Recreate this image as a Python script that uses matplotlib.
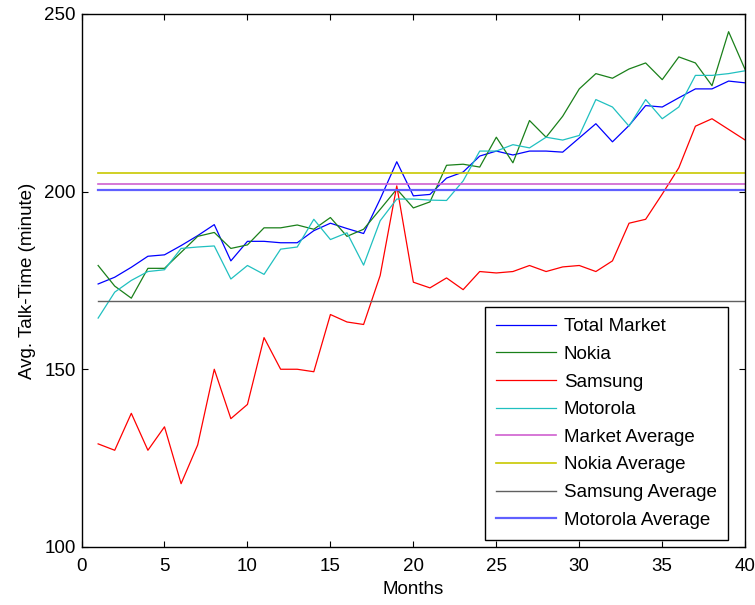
import matplotlib
matplotlib.use("Agg")
import matplotlib.pyplot as plt
import numpy as np

months = list(range(1, 41))
total_market = [174, 175.9, 178.7, 181.8, 182.2, 184.8, 187.6, 190.7, 180.5, 186,
                186, 185.6, 185.6, 189, 191.1, 189.6, 188.2, 197.9, 208.4, 198.8,
                199.2, 203.8, 205.5, 210, 211.4, 210.3, 211.4, 211.4, 211.1, 215.1,
                219.1, 214, 218.6, 224.2, 223.8, 226.4, 228.9, 228.9, 231.1, 230.6]
nokia = [179.2, 173.4, 170, 178.4, 178.4, 182.9, 187.4, 188.5, 184, 185,
         189.8, 189.8, 190.6, 189.4, 192.7, 187.4, 189.4, 195, 200.7, 195.4,
         197.1, 207.4, 207.7, 206.9, 215.3, 208.1, 220, 215.3, 221.2, 228.9,
         233.2, 231.9, 234.5, 236.2, 231.5, 237.9, 236.2, 229.8, 245, 234.3]
samsung = [129, 127.2, 137.6, 127.2, 133.8, 117.8, 128.7, 150, 136.1, 140.1,
           158.9, 150, 150, 149.3, 165.4, 163.3, 162.6, 176.4, 201.6, 174.5,
           172.9, 175.7, 172.4, 177.5, 177.1, 177.5, 179.2, 177.5, 178.8, 179.2,
           177.5, 180.5, 191.1, 192.2, 199.3, 206.7, 218.4, 220.5, 217.5, 214.5]
motorola = [164.4, 171.7, 175, 177.5, 178, 184, 184.4, 184.7, 175.4, 179.2,
            176.7, 183.8, 184.4, 192.2, 186.5, 188.4, 179.3, 191.8, 197.9, 197.9,
            197.6, 197.5, 203, 211.4, 211.4, 213.2, 212.3, 215.3, 214.5, 215.8,
            225.9, 223.8, 218.4, 225.9, 220.5, 223.8, 232.7, 232.7, 233.2, 234]
market_avg = 202.2
nokia_avg = 205.1
samsung_avg = 169.3
motorola_avg = 200.5

series_labels = ["Total Market", "Nokia", "Samsung", "Motorola"]
avg_labels = ["Market Average", "Nokia Average", "Samsung Average", "Motorola Average"]
xticks = [0, 5, 10, 15, 20, 25, 30, 35, 40]
yticks = [100, 150, 200, 250]

plt.rcParams['font.family'] = ['Liberation Sans', 'DejaVu Sans']

fig = plt.figure(figsize=(7.55, 6.05), dpi=100)
ax = fig.add_axes([0.108, 0.096, 0.879, 0.881])

lw = 0.9
ax.plot(months, total_market, color='#0000ff', lw=lw, label=series_labels[0])
ax.plot(months, nokia, color='#1a801a', lw=lw, label=series_labels[1])
ax.plot(months, samsung, color='#ff0000', lw=lw, label=series_labels[2])
ax.plot(months, motorola, color='#20c0c0', lw=lw, label=series_labels[3])

ax.axhline(market_avg, xmin=1/40, xmax=1, color='#d060d0', lw=1.2, label=avg_labels[0])
ax.axhline(nokia_avg, xmin=1/40, xmax=1, color='#c8c800', lw=1.2, label=avg_labels[1])
ax.axhline(samsung_avg, xmin=1/40, xmax=1, color='#606060', lw=1.0, label=avg_labels[2])
ax.axhline(motorola_avg, xmin=1/40, xmax=1, color='#6060ff', lw=1.6, label=avg_labels[3])

fs = 13.5
ax.set_xlim(0, 40)
ax.set_ylim(100, 250)
ax.set_xticks(xticks)
ax.set_yticks(yticks)
ax.tick_params(direction='in', top=True, right=True, length=4, width=0.8, labelsize=fs)
ax.tick_params(axis='x', pad=8)
ax.tick_params(axis='y', pad=4)
for s in ax.spines.values():
    s.set_linewidth(1.0)

ax.set_xlabel("Months", fontsize=fs, labelpad=4)
ax.set_ylabel("Avg. Talk-Time (minute)", fontsize=fs, labelpad=6)

leg = ax.legend(loc='lower right', bbox_to_anchor=(0.974, 0.013), fontsize=fs,
                frameon=True, fancybox=False, edgecolor='black', framealpha=1,
                handlelength=3.2, handletextpad=0.4, labelspacing=0.56, borderpad=0.6,
                borderaxespad=0)
leg.get_frame().set_linewidth(1.0)

fig.savefig("out.png", dpi=100)
